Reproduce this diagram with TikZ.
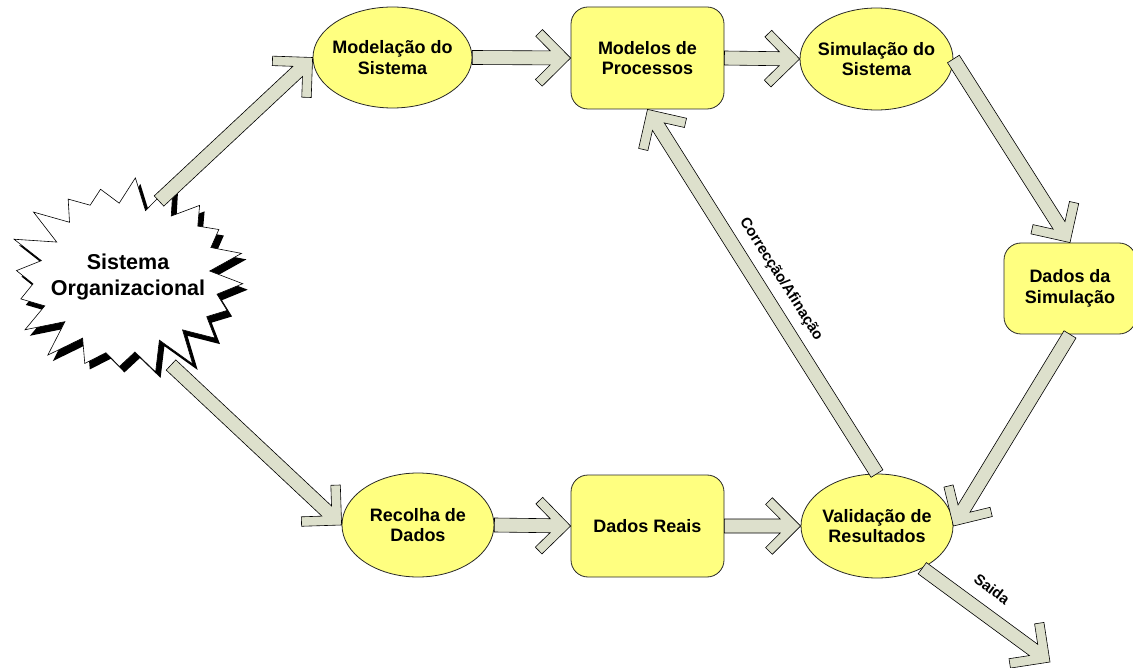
\documentclass[tikz,border=0pt]{standalone}
\usepackage{fontspec}
\setmainfont{Liberation Sans}
\usetikzlibrary{calc,shapes.geometric}

\definecolor{boxfill}{RGB}{255,255,128}
\definecolor{arrowfill}{RGB}{221,224,204}
\definecolor{edgegray}{RGB}{40,40,40}

\newcommand\nodefont{\bfseries\fontsize{18}{20.5}\selectfont}

\tikzset{
  ell/.style={ellipse, draw=edgegray, line width=0.8pt, fill=boxfill, inner sep=0pt},
  box/.style={rectangle, rounded corners=17pt, draw=edgegray, line width=0.8pt,
              fill=boxfill, align=center, font=\nodefont, inner sep=0pt},
  txt/.style={align=center, font=\nodefont, inner sep=0pt},
  lbl/.style={font=\bfseries\fontsize{15}{17}\selectfont, inner sep=0pt},
  % broad block arrow with an open chevron head
  chev/.style={draw=black, line width=0.6pt, fill=arrowfill, line join=miter,
    to path={
      let \p1=(\tikztostart), \p2=(\tikztotarget),
          \n1={atan2(\y2-\y1,\x2-\x1)} in
      ([shift={(\p1)},rotate=\n1]0pt,7pt)
      -- ([shift={(\p2)},rotate=\n1]-20.4pt,7pt)
      -- ([shift={(\p2)},rotate=\n1]-35pt,21.6pt)
      -- ([shift={(\p2)},rotate=\n1]-28.3pt,28.3pt)
      -- (\p2)
      -- ([shift={(\p2)},rotate=\n1]-28.3pt,-28.3pt)
      -- ([shift={(\p2)},rotate=\n1]-35pt,-21.6pt)
      -- ([shift={(\p2)},rotate=\n1]-20.4pt,-7pt)
      -- ([shift={(\p1)},rotate=\n1]0pt,-7pt)
      -- cycle
    }},
  burst/.style={samples at={0,...,39}, variable=\i}
}

% jagged outline of the burst: alternating tips and notches
\newcommand\burstx{127+116*(mod(\i,2)==0 ? 1 : 0.76)*(1+0.07*sin(\i*137))*cos(\i*9+4)}
\newcommand\bursty{277+96*(mod(\i,2)==0 ? 1 : 0.76)*(1+0.07*sin(\i*137))*sin(\i*9+4)}

\begin{document}
\begin{tikzpicture}[x=1pt,y=-1pt]
  \fill[white] (0,0) rectangle (1133,668);
  \useasboundingbox (0,0) rectangle (1133,668);

  % the organisational system: jagged burst with a black drop shadow
  \fill[black, shift={(5,6)}] plot[burst] ({\burstx},{\bursty}) -- cycle;
  \filldraw[fill=white, draw=black, line width=0.6pt] plot[burst] ({\burstx},{\bursty}) -- cycle;
  \node[txt, font=\bfseries\fontsize{21.5}{26}\selectfont] (org) at (128,277)
    {Sistema\\Organizacional};
  \coordinate (org-ne) at (159,201);
  \coordinate (org-se) at (171,365);

  % process nodes
  \node[ell, minimum width=159pt, minimum height=101pt] (mod) at (392.5,57.5) {};
  \node[txt] (mod-t) at (mod) {Modelação do\\Sistema};
  \node[box, minimum width=153pt, minimum height=102pt] (models) at (647.5,58)
    {Modelos de\\Processos};
  \node[ell, minimum width=153pt, minimum height=102pt] (sim) at (876.5,59) {};
  \node[txt] (sim-t) at (sim) {Simulação do\\Sistema};
  \node[box, minimum width=132pt, minimum height=91pt] (dsim) at (1070,288.5)
    {Dados da\\Simulação};
  \node[ell, minimum width=152pt, minimum height=104pt] (rec) at (418,525) {};
  \node[txt] (rec-t) at (rec) {Recolha de\\Dados};
  \node[box, minimum width=153pt, minimum height=102pt] (dreais) at (647.5,526)
    {Dados Reais};
  \node[ell, minimum width=152pt, minimum height=104pt] (valid) at (877,526) {};
  \node[txt] (valid-t) at (valid) {Validação de\\Resultados};
  \coordinate (out) at (1050,662);

  % connectors
  \draw[chev] (org-ne) to (mod.west);
  \draw[chev] (mod.east) to (models.west);
  \draw[chev] (models.east) to (sim.west);
  \draw[chev] (sim.east) to (dsim.north);
  \draw[chev] (dsim.south) to (valid.east);
  \draw[chev] (org-se) to (rec.west);
  \draw[chev] (rec.east) to (dreais.west);
  \draw[chev] (dreais.east) to (valid.west);
  \draw[chev] (valid.north) to (models.south);
  \draw[chev] (valid.-43) to (out);

  % connector labels
  \node[lbl, rotate=-57.5] (corr) at (781,279) {Correcção/Afinação};
  \node[lbl, rotate=-36.6] (saida) at (992,589) {Saida};
\end{tikzpicture}
\end{document}
